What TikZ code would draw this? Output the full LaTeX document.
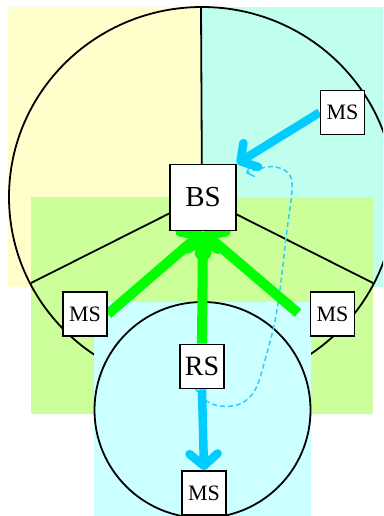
\documentclass[tikz,border=0pt]{standalone}
\usepackage{fontspec}
\setmainfont{Liberation Serif}
\usetikzlibrary{arrows.meta}
\definecolor{zoneyellow}{HTML}{FFFFCC}
\definecolor{zonemint}{HTML}{C0FFEE}
\definecolor{zonegreen}{HTML}{CCFF99}
\definecolor{zonecyan}{HTML}{CCFFFF}
\definecolor{linkgreen}{HTML}{00FF00}
\definecolor{linkcyan}{HTML}{00CCFF}
\definecolor{relaycyan}{HTML}{33CCFF}
\begin{document}
\begin{tikzpicture}[x=1pt,y=-1pt,
  station/.style={draw=black, line width=1.9pt, fill=white, inner sep=0pt,
    minimum size=44pt, font=\fontsize{22}{22}\selectfont},
  basestation/.style={station, minimum size=66pt, font=\fontsize{29}{29}\selectfont},
  relaystation/.style={station, font=\fontsize{28}{28}\selectfont},
  outline/.style={draw=black, line width=1.8pt},
  uplink/.style={draw=linkgreen, line width=10pt,
    -{Straight Barb[length=12pt, width=30pt, round]}},
  cyanlink/.style={draw=linkcyan, line width=8.5pt,
    -{Straight Barb[length=12pt, width=28pt, round]}},
  relaypath/.style={draw=relaycyan, line width=1.5pt, dash pattern=on 5pt off 3pt,
    -{Straight Barb[length=6pt, width=12pt, round]}}]
\useasboundingbox (0,0) rectangle (383,516);
\clip (0,0) rectangle (383,516);
\fill[white] (0,0) rectangle (383,516);

% coverage zones
\fill[zoneyellow] (8,7) rectangle (201,287);
\fill[zonemint] (201,7) rectangle (383,287);
\fill[zonegreen] (31,197) rectangle (373,414);

% base station cell with three sectors
\coordinate (cellc) at (202,197);
\draw[outline] (cellc) ellipse [x radius=193, y radius=190];
\coordinate (s1) at (201,7);
\coordinate (s2) at (31,283);
\coordinate (s3) at (373,283);
\draw[outline] (cellc) -- (s1);
\draw[outline] (cellc) -- (s2);
\draw[outline] (cellc) -- (s3);

% relay cell
\fill[zonecyan] (94,302) rectangle (311,516);
\draw[outline] (202.5,410) circle [radius=108];

% stations
\node[basestation] (bs) at (203,197.5) {BS};
\node[relaystation] (rs) at (202,366.5) {RS};
\node[station] (msa) at (342.5,112.5) {MS};
\node[station] (msl) at (85,314) {MS};
\node[station] (msr) at (332.5,314) {MS};
\node[station] (msb) at (204,493) {MS};

% relayed path from the relay station back towards the base station
\coordinate (r0) at (195,388);
\coordinate (r1) at (246,173);
\draw[relaypath] plot[smooth, tension=0.6] coordinates {(r0) (205,400) (220,406) (240,404) (255,390) (265,360) (277,310) (287,230) (292,190) (289,174) (276,167) (262,168) (r1)};

% links
\coordinate (bsin) at (203,232);
\coordinate (msrout) at (298,313);
\draw[uplink] (msl.east) -- (bsin);
\draw[uplink] (msrout) -- (bsin);
\draw[uplink] (rs.north) -- (bsin);
\draw[cyanlink] (msa.west) -- (bs.north east);
\draw[cyanlink] (rs.south) -- (msb.north);

% redraw stations above the links
\node[basestation] at (bs) {BS};
\node[relaystation] at (rs) {RS};
\node[station] at (msa) {MS};
\node[station] at (msl) {MS};
\node[station] at (msb) {MS};
\end{tikzpicture}
\end{document}
